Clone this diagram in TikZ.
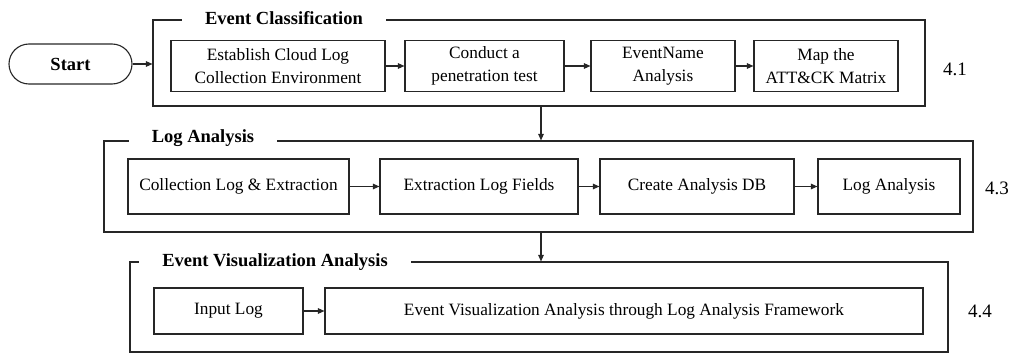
\documentclass[tikz,border=0pt]{standalone}
\usepackage{fontspec}
\setmainfont{Liberation Serif}
\usetikzlibrary{arrows.meta}
\tikzset{
  body/.style={font=\fontsize{17.3}{22.5}\selectfont},
  stepbox/.style={draw=black!85, line width=1.1pt, align=center, inner sep=0pt, body},
  frame/.style={draw=black!85, line width=1.1pt, inner sep=0pt},
  grouptitle/.style={fill=white, inner xsep=23pt, inner ysep=2pt, font=\fontsize{18.5}{22}\selectfont\bfseries},
  secnum/.style={font=\fontsize{19}{22}\selectfont},
  arr/.style={draw=black!85, line width=1.1pt, -{Triangle[length=6.5pt,width=5.5pt]}},
}
\begin{document}
\begin{tikzpicture}[x=1pt,y=-1pt]
\useasboundingbox (0,0) rectangle (1028,353);
% frames
\node[frame, minimum width=772pt, minimum height=86pt] (f1) at (539,63) {};
\node[frame, minimum width=869pt, minimum height=91pt] (f2) at (538.5,186.5) {};
\node[frame, minimum width=818pt, minimum height=90pt] (f3) at (539,307) {};
% titles
\node[grouptitle] (t1) at (284,18) {Event Classification};
\node[grouptitle] (t2) at (203,138) {Log Analysis};
\node[grouptitle] (t3) at (275,262) {Event Visualization Analysis};
% start
\node[draw=black!85, line width=1.1pt, rounded corners=20pt, minimum width=123pt, minimum height=40pt, inner sep=0pt, font=\fontsize{18.5}{20}\selectfont\bfseries] (start) at (70.5,64) {Start};
% row 1
\node[stepbox, minimum width=214pt, minimum height=51pt] (b11) at (278,66) {Establish Cloud Log\\Collection Environment};
\node[stepbox, minimum width=159pt, minimum height=51pt] (b12) at (484.5,66) {Conduct a\\penetration test};
\node[stepbox, minimum width=144pt, minimum height=51pt] (b13) at (663,66) {EventName\\Analysis};
\node[stepbox, minimum width=144pt, minimum height=51pt] (b14) at (826,66) {Map the\\ATT\&CK Matrix};
% row 2
\node[stepbox, minimum width=221pt, minimum height=55pt] (b21) at (238.5,186.5) {Collection Log \& Extraction};
\node[stepbox, minimum width=198pt, minimum height=55pt] (b22) at (479,186.5) {Extraction Log Fields};
\node[stepbox, minimum width=194pt, minimum height=55pt] (b23) at (697,186.5) {Create Analysis DB};
\node[stepbox, minimum width=142pt, minimum height=55pt] (b24) at (889,186.5) {Log Analysis};
% row 3
\node[stepbox, minimum width=149pt, minimum height=46pt] (b31) at (228.5,311) {Input Log};
\node[stepbox, minimum width=598pt, minimum height=46pt] (b32) at (624,311) {Event Visualization Analysis through Log Analysis Framework};
% section numbers
\node[secnum] (n1) at (955,69) {4.1};
\node[secnum] (n2) at (997,188) {4.3};
\node[secnum] (n3) at (980,311) {4.4};
% connectors
\draw[arr] (start.east) -- (start.east -| f1.west);
\draw[arr] (b11) -- (b12);
\draw[arr] (b12) -- (b13);
\draw[arr] (b13) -- (b14);
\draw[arr] (b21) -- (b22);
\draw[arr] (b22) -- (b23);
\draw[arr] (b23) -- (b24);
\draw[arr] (b31) -- (b32);
\coordinate (vx) at (541,0);
\draw[arr] (f1.south -| vx) -- (f2.north -| vx);
\draw[arr] (f2.south -| vx) -- (f3.north -| vx);
\end{tikzpicture}
\end{document}
